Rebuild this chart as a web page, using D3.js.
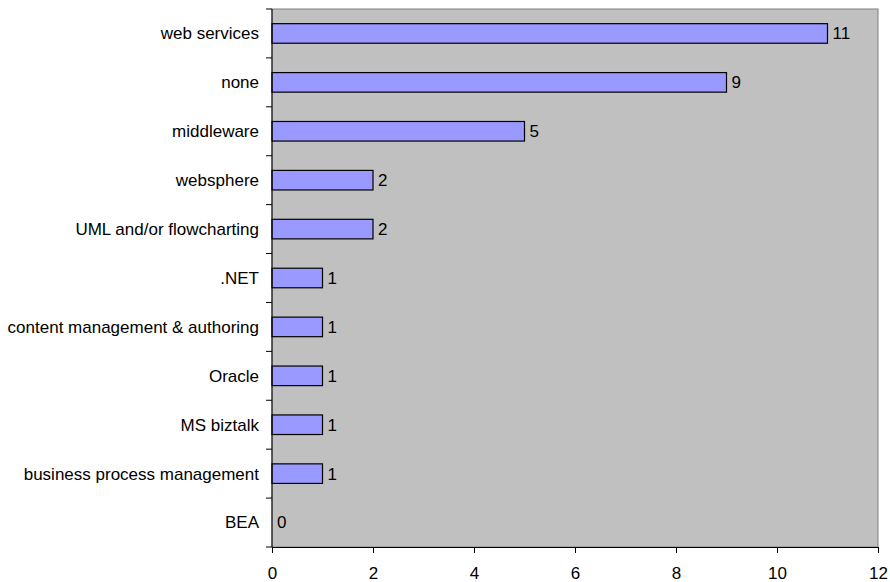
<!DOCTYPE html>
<html>
<head>
  <meta charset="utf-8"/>
  <script src="https://d3js.org/d3.v7.min.js"></script>
  <style>
    html, body { margin: 0; padding: 0; background: #fff; overflow: hidden; }
    svg { display: block; font-family: "Liberation Sans", Arial, sans-serif; }
  </style>
</head>
<body>
  <svg id="chart" width="890" height="582"></svg>
  <script>
    // categories top to bottom and their counts
    const categories = ["web services", "none", "middleware", "websphere", "UML and/or flowcharting",
      ".NET", "content management & authoring", "Oracle", "MS biztalk",
      "business process management", "BEA"];
    const counts = [11, 9, 5, 2, 2, 1, 1, 1, 1, 1, 0];
    const xTicks = [0, 2, 4, 6, 8, 10, 12];

    const svg = d3.select("#chart");
    const plotLeft = 272, plotRight = 878, plotTop = 9, plotBottom = 547;
    const fontSize = 17;

    const x = d3.scaleLinear().domain([0, 12]).range([plotLeft, plotRight]);
    const y = d3.scaleBand().domain(categories).range([plotTop, plotBottom]).paddingInner(0.6).paddingOuter(0.3);
    const yb = d3.scaleBand().domain(categories).range([plotTop, plotBottom]); // full bands for ticks

    // plot area
    svg.append("rect")
      .attr("x", plotLeft).attr("y", plotTop)
      .attr("width", plotRight - plotLeft).attr("height", plotBottom - plotTop)
      .attr("fill", "#c0c0c0")
      .attr("stroke", "#808080").attr("stroke-width", 1);

    // bars
    svg.selectAll(".bar")
      .data(categories)
      .enter().append("rect")
      .attr("class", "bar")
      .attr("x", x(0))
      .attr("y", d => y(d))
      .attr("width", (d, i) => x(counts[i]) - x(0))
      .attr("height", y.bandwidth())
      .attr("fill", "#9999ff")
      .attr("stroke", "#000")
      .attr("stroke-width", 1.2);

    // value labels
    svg.selectAll(".val")
      .data(categories)
      .enter().append("text")
      .attr("x", (d, i) => x(counts[i]) + 5)
      .attr("y", d => y(d) + y.bandwidth() / 2)
      .attr("dy", "0.35em")
      .attr("font-size", fontSize)
      .text((d, i) => counts[i]);

    // y axis (ticks between categories)
    const yAxis = svg.append("g");
    yAxis.append("line")
      .attr("x1", plotLeft).attr("x2", plotLeft).attr("y1", plotTop).attr("y2", plotBottom)
      .attr("stroke", "#000");
    const bounds = categories.map(d => yb(d)).concat([plotBottom]);
    yAxis.selectAll(".yt")
      .data(bounds)
      .enter().append("line")
      .attr("x1", plotLeft - 6).attr("x2", plotLeft)
      .attr("y1", d => d).attr("y2", d => d)
      .attr("stroke", "#000");
    yAxis.selectAll(".yl")
      .data(categories)
      .enter().append("text")
      .attr("x", plotLeft - 13)
      .attr("y", d => yb(d) + yb.bandwidth() / 2)
      .attr("dy", "0.35em")
      .attr("text-anchor", "end")
      .attr("font-size", fontSize)
      .text(d => d);

    // x axis
    const xAxis = svg.append("g")
      .attr("transform", `translate(0,${plotBottom})`)
      .call(d3.axisBottom(x).tickValues(xTicks).tickSize(6).tickPadding(14).tickSizeOuter(0));
    xAxis.select(".domain").attr("stroke", "#000");
    xAxis.selectAll("text")
      .attr("font-size", fontSize)
      .attr("font-family", "'Liberation Sans', Arial, sans-serif")
      .attr("fill", "#000");
  </script>
</body>
</html>
